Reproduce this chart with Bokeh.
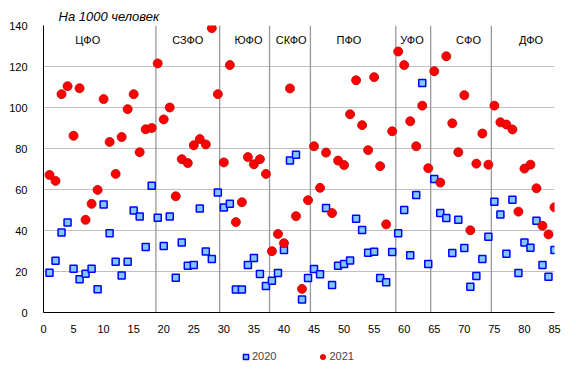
from bokeh.plotting import figure
from bokeh.layouts import column
from bokeh.models import ColumnDataSource, FixedTicker, Legend, LegendItem, Range1d
from bokeh.core.properties import value
from bokeh.embed import file_html
from bokeh.resources import INLINE

# ---- data ----
region_idx = list(range(1, 86))
y2020 = [19.4, 25.3, 39.0, 43.9, 21.4, 16.2, 18.9, 21.4, 11.3, 52.7,
         38.7, 24.8, 18.1, 24.8, 49.7, 46.8, 32.0, 61.8, 46.2, 32.5,
         46.8, 17.0, 34.1, 22.8, 23.2, 50.7, 29.8, 26.1, 58.5, 51.2,
         53.0, 11.2, 11.2, 23.2, 26.6, 18.8, 12.9, 15.5, 19.3, 30.5,
         74.2, 77.0, 6.3, 16.8, 21.2, 18.7, 51.0, 13.4, 22.8, 23.7,
         25.4, 45.7, 40.3, 29.1, 29.6, 16.8, 14.7, 29.5, 38.6, 50.0,
         27.9, 57.3, 112.0, 23.6, 65.1, 48.5, 46.1, 29.0, 45.2, 31.5,
         12.6, 17.8, 26.1, 36.9, 54.0, 47.8, 28.7, 55.0, 19.3, 34.1,
         31.6, 44.8, 23.2, 17.5, 30.5]
y2021 = [67.1, 64.2, 106.5, 110.4, 86.2, 109.4, 45.2, 53.0, 59.8, 104.1,
         83.2, 67.6, 85.6, 99.2, 106.5, 78.2, 89.4, 90.0, 121.5, 94.2,
         100.0, 56.7, 74.8, 72.9, 81.6, 84.6, 82.0, 138.7, 106.5, 73.2,
         120.7, 44.1, 53.8, 75.8, 72.3, 74.8, 67.6, 29.9, 38.3, 33.8,
         109.3, 47.0, 11.5, 54.8, 81.1, 60.8, 78.0, 48.5, 74.1, 71.9,
         96.7, 113.3, 91.4, 79.2, 114.8, 71.4, 43.0, 88.4, 127.3, 120.7,
         93.3, 81.1, 100.9, 70.4, 117.7, 63.4, 125.0, 92.3, 78.2, 106.0,
         40.1, 72.6, 87.3, 72.1, 100.9, 92.8, 91.7, 89.3, 49.2, 70.2,
         72.1, 60.6, 42.3, 38.1, 51.3]
districts = ["ЦФО", "СЗФО", "ЮФО", "СКФО", "ПФО", "УФО", "СФО", "ДФО"]
district_x = [7.35, 24.0, 34.1, 41.2, 50.8, 61.3, 70.7, 81.1]
district_y = [132.7] * 8
separators = [18.7, 29.3, 37.6, 44.4, 58.6, 64.4, 74.5]
x_ticks = list(range(0, 86, 5))
y_ticks = list(range(0, 141, 20))
title_text = "На 1000 человек"
series_names = ["2020", "2021"]

FONT = "Liberation Sans"
W = 565

SQ = dict(marker="square", fill_color="#80c8ff", line_color="#0000ff", line_width=1.5)
CI = dict(marker="circle", fill_color="#ff0000", line_color="#c00000", line_width=0.8)

p = figure(width=W, height=335, x_range=Range1d(0, 85), y_range=Range1d(0, 140),
           output_backend="svg", toolbar_location=None,
           min_border_left=43, min_border_right=11, min_border_top=25, min_border_bottom=22)
p.outline_line_color = None
p.background_fill_color = "white"

p.title.text = title_text
p.title.text_font = FONT
p.title.text_font_size = "13px"
p.title.text_font_style = "italic"
p.title.text_color = "#000000"
p.title.align = "left"
p.title.offset = 15
p.title.standoff = 3

# axes
for ax in (p.xaxis, p.yaxis):
    ax.major_tick_line_color = None
    ax.minor_tick_line_color = None
    ax.axis_line_color = "black"
    ax.axis_line_width = 1
    ax.major_label_text_font = FONT
    ax.major_label_text_font_size = "11px"
    ax.major_label_text_color = "#000000"
p.xaxis.ticker = FixedTicker(ticks=x_ticks)
p.yaxis.ticker = FixedTicker(ticks=y_ticks)
p.xaxis.major_label_standoff = 6
p.yaxis.major_label_standoff = 10

p.xgrid.grid_line_color = None
p.ygrid.ticker = FixedTicker(ticks=y_ticks)
p.ygrid.grid_line_color = "#c0c0c0"
p.ygrid.grid_line_width = 1

# district separators
sep_src = ColumnDataSource(dict(x=separators, y0=[0] * len(separators), y1=[140] * len(separators)))
p.segment(x0="x", y0="y0", x1="x", y1="y1", source=sep_src, line_color="#999999", line_width=1.3)

# district labels
d_src = ColumnDataSource(dict(x=district_x, y=district_y, t=districts))
p.text(x="x", y="y", text="t", source=d_src, text_align="center", text_baseline="middle",
       text_font=value(FONT), text_font_size="11px", text_color="#000000")

src = ColumnDataSource(dict(x=region_idx, a=y2020, b=y2021))
p.scatter(x="x", y="a", source=src, size=7, **SQ)
p.scatter(x="x", y="b", source=src, size=9, **CI)

# legend strip below the chart (legend renderers hold one off-screen point)
lg = figure(width=W, height=39, x_range=Range1d(0, W), y_range=Range1d(0, 39),
            output_backend="svg", toolbar_location=None,
            x_axis_location=None, y_axis_location=None,
            min_border_left=0, min_border_right=0, min_border_top=0, min_border_bottom=0)
lg.outline_line_color = None
lg.grid.visible = False
offscreen = ColumnDataSource(dict(x=[-1000], y=[-1000]))
l1 = lg.scatter(x="x", y="y", source=offscreen, size=7, **SQ)
l2 = lg.scatter(x="x", y="y", source=offscreen, size=9, **CI)
legend = Legend(items=[LegendItem(label=series_names[0], renderers=[l1]),
                       LegendItem(label=series_names[1], renderers=[l2])],
                orientation="horizontal", location=(196, 11),
                glyph_width=13, glyph_height=13, label_height=14, label_standoff=0,
                spacing=40, padding=5, margin=0,
                label_text_font=FONT, label_text_font_size="11px",
                border_line_color=None, background_fill_alpha=0)
lg.add_layout(legend, "center")

open("out.html", "w").write(file_html(column(p, lg, spacing=0), INLINE))
